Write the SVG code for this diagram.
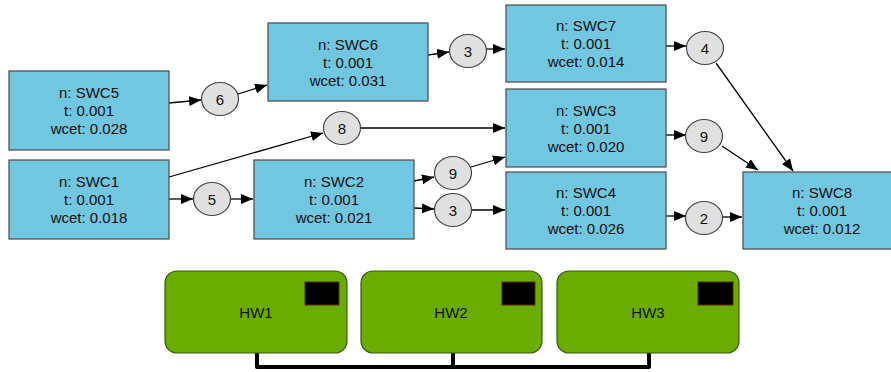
<svg xmlns="http://www.w3.org/2000/svg" width="891" height="372" viewBox="0 0 891 372">
<defs>
<style>
.swc{fill:#71c6e0;stroke:#555;stroke-width:1.3}
.lbl{font-family:"Liberation Sans",Arial,Helvetica,sans-serif;font-size:15px;fill:#111;text-anchor:middle;dominant-baseline:central}
.msg{fill:#e0e0e0;stroke:#444;stroke-width:1.2}
.edge{stroke:#000;stroke-width:1.3;fill:none;marker-end:url(#arr)}
.hw{fill:#6aad00;stroke:#3b5a10;stroke-width:1.2}
.chip{fill:#000;stroke:#5a2a10;stroke-width:1}
.bus{stroke:#000;stroke-width:4;fill:none;stroke-linecap:round;stroke-linejoin:round}
</style>
<marker id="arr" markerUnits="userSpaceOnUse" markerWidth="12" markerHeight="10" refX="12" refY="5" orient="auto">
<path d="M0,0 L12,5 L0,10 z" fill="#000"/>
</marker>
</defs>
<rect width="891" height="372" fill="#fff"/>
<g id="connectors">
<path class="edge" d="M169,103 L201,100"/>
<path class="edge" d="M238,94 L267,85"/>
<path class="edge" d="M428,55 L449,52"/>
<path class="edge" d="M487,49 L505,49"/>
<path class="edge" d="M666,46 L686,46"/>
<path class="edge" d="M716,63 L793,171"/>
<path class="edge" d="M666,135 L686,135"/>
<path class="edge" d="M722,146 L758,170"/>
<path class="edge" d="M666,216 L686,216"/>
<path class="edge" d="M723,217 L742,217"/>
<path class="edge" d="M169,177 L323,133"/>
<path class="edge" d="M361,128 L505,128"/>
<path class="edge" d="M169,199 L193,199"/>
<path class="edge" d="M231,199 L253,199"/>
<path class="edge" d="M414,181 L434,177"/>
<path class="edge" d="M471,167 L505,157"/>
<path class="edge" d="M414,208 L434,209"/>
<path class="edge" d="M472,210 L505,210"/>
<path class="bus" d="M257,353 L257,367 L453,367 L453,353 M453,367 L649,367 L649,353"/>
</g>
<g id="SWC5"><rect class="swc" x="9" y="71" width="160" height="79"/><text class="lbl" x="89" y="92.5">n: SWC5</text><text class="lbl" x="89" y="110.5">t: 0.001</text><text class="lbl" x="89" y="128.5">wcet: 0.028</text></g>
<g id="SWC1"><rect class="swc" x="9" y="160" width="160" height="79"/><text class="lbl" x="89" y="181.5">n: SWC1</text><text class="lbl" x="89" y="199.5">t: 0.001</text><text class="lbl" x="89" y="217.5">wcet: 0.018</text></g>
<g id="SWC6"><rect class="swc" x="268" y="23" width="160" height="78"/><text class="lbl" x="348" y="44">n: SWC6</text><text class="lbl" x="348" y="62">t: 0.001</text><text class="lbl" x="348" y="80">wcet: 0.031</text></g>
<g id="SWC2"><rect class="swc" x="254" y="160" width="160" height="79"/><text class="lbl" x="334" y="181.5">n: SWC2</text><text class="lbl" x="334" y="199.5">t: 0.001</text><text class="lbl" x="334" y="217.5">wcet: 0.021</text></g>
<g id="SWC7"><rect class="swc" x="506" y="5" width="160" height="77"/><text class="lbl" x="586" y="25.5">n: SWC7</text><text class="lbl" x="586" y="43.5">t: 0.001</text><text class="lbl" x="586" y="61.5">wcet: 0.014</text></g>
<g id="SWC3"><rect class="swc" x="506" y="89" width="160" height="78"/><text class="lbl" x="586" y="110">n: SWC3</text><text class="lbl" x="586" y="128">t: 0.001</text><text class="lbl" x="586" y="146">wcet: 0.020</text></g>
<g id="SWC4"><rect class="swc" x="506" y="172" width="160" height="77"/><text class="lbl" x="586" y="192.5">n: SWC4</text><text class="lbl" x="586" y="210.5">t: 0.001</text><text class="lbl" x="586" y="228.5">wcet: 0.026</text></g>
<g id="SWC8"><rect class="swc" x="743" y="172" width="160" height="77"/><text class="lbl" x="822" y="192.5">n: SWC8</text><text class="lbl" x="822" y="210.5">t: 0.001</text><text class="lbl" x="822" y="228.5">wcet: 0.012</text></g>
<g id="m6"><ellipse class="msg" cx="220" cy="99" rx="18.5" ry="16.5"/><text class="lbl" x="220" y="99">6</text></g>
<g id="m5"><ellipse class="msg" cx="212" cy="199" rx="18.5" ry="16.5"/><text class="lbl" x="212" y="199">5</text></g>
<g id="m8"><ellipse class="msg" cx="342" cy="128" rx="18.5" ry="16.5"/><text class="lbl" x="342" y="128">8</text></g>
<g id="m3a"><ellipse class="msg" cx="468" cy="51" rx="18.5" ry="16.5"/><text class="lbl" x="468" y="51">3</text></g>
<g id="m9a"><ellipse class="msg" cx="453" cy="173" rx="18.5" ry="16.5"/><text class="lbl" x="453" y="173">9</text></g>
<g id="m3b"><ellipse class="msg" cx="453" cy="210" rx="18.5" ry="16.5"/><text class="lbl" x="453" y="210">3</text></g>
<g id="m4"><ellipse class="msg" cx="705" cy="48" rx="18.5" ry="16.5"/><text class="lbl" x="705" y="48">4</text></g>
<g id="m9b"><ellipse class="msg" cx="704" cy="136" rx="18.5" ry="16.5"/><text class="lbl" x="704" y="136">9</text></g>
<g id="m2"><ellipse class="msg" cx="704" cy="218" rx="18.5" ry="16.5"/><text class="lbl" x="704" y="218">2</text></g>
<g id="HW1"><rect class="hw" x="165" y="271" width="182" height="82" rx="12"/><rect class="chip" x="305" y="282" width="34" height="23"/><text class="lbl" x="256" y="312">HW1</text></g>
<g id="HW2"><rect class="hw" x="361" y="271" width="181" height="82" rx="12"/><rect class="chip" x="502" y="282" width="33" height="23"/><text class="lbl" x="451" y="312">HW2</text></g>
<g id="HW3"><rect class="hw" x="557" y="271" width="182" height="82" rx="12"/><rect class="chip" x="698" y="282" width="35" height="23"/><text class="lbl" x="648" y="312">HW3</text></g>
</svg>
